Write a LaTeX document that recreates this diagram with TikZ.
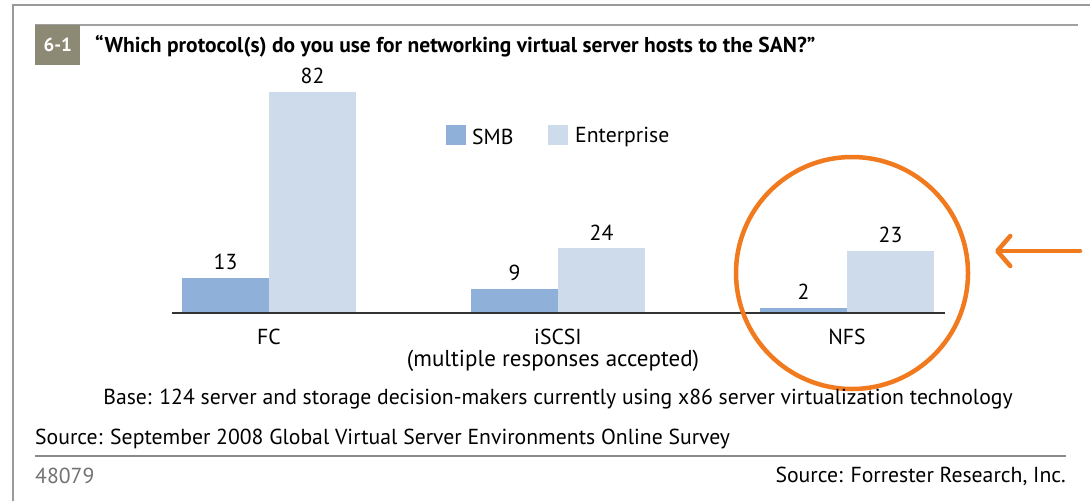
\documentclass[tikz,border=0pt]{standalone}
\usepackage{fontspec}
\setmainfont{PT Sans}
\usetikzlibrary{arrows.meta}
\definecolor{tagcol}{HTML}{8C8A74}
\definecolor{smbcol}{HTML}{8FB0D9}
\definecolor{entcol}{HTML}{CEDBEB}
\definecolor{ringcol}{HTML}{F27A1E}
\definecolor{framecol}{HTML}{9A9A9A}
\definecolor{rulecol}{HTML}{8A8A8A}
\begin{document}
\begin{tikzpicture}[x=1pt,y=-1pt,
  txt/.style={font=\fontsize{21.7}{24}\selectfont, inner sep=0pt},
  valtxt/.style={txt, anchor=south, yshift=8pt},
  barbase/.style={anchor=south west, inner sep=0pt, outer sep=0pt, minimum width=87pt},
  smbbar/.style={barbase, fill=smbcol},
  entbar/.style={barbase, fill=entcol},
  swatch/.style={inner sep=0pt, minimum size=20pt},
]
\useasboundingbox (0,0) rectangle (1090,501);
\fill[white] (0,0) rectangle (1090,501);

% outer frame and title rule
\draw[framecol, line width=2pt] (13,501) -- (13,5) -- (1090,5);
\draw[rulecol!80, line width=1.5pt] (35,25) -- (1078,25);

% figure tag and title
\node[fill=tagcol, minimum width=45pt, minimum height=40pt, inner sep=0pt,
      anchor=north west, text=white, font=\fontsize{19}{22}\selectfont\bfseries] (tag) at (35,25) {6-1};
\node[txt, font=\fontsize{21.5}{24}\selectfont\bfseries, anchor=base west] (title) at (95,52)
  {“Which protocol(s) do you use for networking virtual server hosts to the SAN?”};

% legend
\node[swatch, fill=smbcol] (lsmb) at (456,135) {};
\node[txt, anchor=west] (lsmbt) at (472,137) {SMB};
\node[swatch, fill=entcol] (lent) at (558,135) {};
\node[txt, anchor=west] (lentt) at (575,137) {Enterprise};

% bars (2.7 px per respondent)
\node[smbbar, minimum height=35.1pt] (fcs) at (182,313) {};
\node[entbar, minimum height=221.4pt] (fce) at (269,313) {};
\node[smbbar, minimum height=24.3pt] (iss) at (471,313) {};
\node[entbar, minimum height=64.8pt] (ise) at (558,313) {};
\node[smbbar, minimum height=5.4pt] (nfs) at (760,313) {};
\node[entbar, minimum height=62.1pt] (nfe) at (847,313) {};

% value labels
\node[valtxt] (vfcs) at (fcs.north) {13};
\node[valtxt] (vfce) at (fce.north) {82};
\node[valtxt] (viss) at (iss.north) {9};
\node[valtxt] (vise) at (ise.north) {24};
\node[valtxt] (vnfs) at (nfs.north) {2};
\node[valtxt] (vnfe) at (nfe.north) {23};

% axis
\coordinate (axl) at (172,313);
\coordinate (axr) at (945,313);
\draw[black!80, line width=1.2pt] (axl) -- (axr);

% category labels
\node[txt] (cfc) at (269,337) {FC};
\node[txt] (cis) at (558,337) {iSCSI};
\node[txt, font=\fontsize{23}{26}\selectfont] (cnote) at (553,361) {(multiple responses accepted)};
\node[txt] (cnf) at (847,337) {NFS};

% highlight ring and pointer
\node[draw=ringcol, line width=4.5pt, circle, minimum size=232pt, inner sep=0pt] (ring) at (852,273) {};
\coordinate (tail) at (1080,251);
\coordinate (tip) at (995,251);
\draw[ringcol, line width=4.5pt, line cap=round,
      -{Straight Barb[length=13pt, width=30pt, line cap=round, line join=round]}] (tail) -- (tip);

% footer
\node[txt] (base) at (558,399)
  {Base: 124 server and storage decision-makers currently using x86 server virtualization technology};
\node[txt, anchor=west] (src) at (35,439)
  {Source: September 2008 Global Virtual Server Environments Online Survey};
\coordinate (rl) at (35,456);
\coordinate (rr) at (1066,456);
\draw[rulecol, line width=1.2pt] (rl) -- (rr);
\node[txt, anchor=west, text=black!55] (num) at (35,476) {48079};
\node[txt, anchor=east] (fr) at (1066,476) {Source: Forrester Research, Inc.};
\end{tikzpicture}
\end{document}
